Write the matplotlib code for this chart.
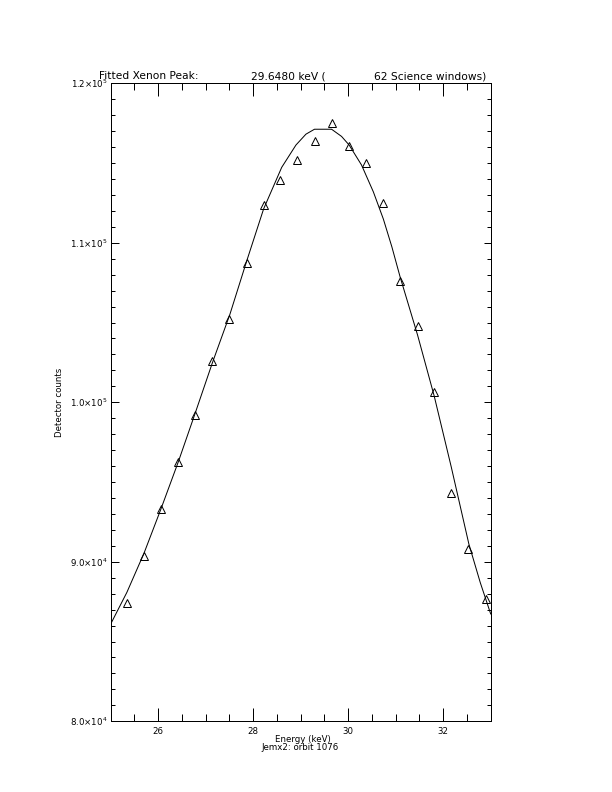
import matplotlib
matplotlib.use("Agg")
import matplotlib.pyplot as plt
from matplotlib.ticker import MultipleLocator, FixedLocator

# ---- data ----
energy_pts = [25.34, 25.71, 26.06, 26.42, 26.78, 27.14, 27.50, 27.86, 28.22, 28.57, 28.93,
              29.30, 29.65, 30.01, 30.38, 30.74, 31.09, 31.46, 31.81, 32.16, 32.53, 32.90]
counts_pts = [87400, 90360, 93310, 96280, 99200, 102590, 105220, 108720, 112370, 113940, 115190,
              116400, 117530, 116090, 115020, 112520, 107610, 104790, 100670, 94330, 90780, 87650]

energy_fit = [25.00, 25.34, 25.70, 26.05, 26.42, 26.78, 27.14, 27.51, 27.86, 28.22, 28.60, 28.90,
              29.11, 29.29, 29.65, 29.86, 30.02, 30.28, 30.53, 30.74, 30.92, 31.09, 31.46, 31.81,
              32.17, 32.54, 32.78, 33.00]
counts_fit = [86100, 88080, 90530, 93250, 96240, 99330, 102470, 105520, 108830, 112130, 114730, 116130,
              116810, 117120, 117120, 116670, 116130, 114880, 113190, 111490, 109740, 107890, 104220, 100400,
              95940, 91120, 88700, 86730]

x_major = [26, 28, 30, 32]
y_major = [80000, 90000, 100000, 110000, 120000]
y_labels = [r"8.0$\times$10$^4$", r"9.0$\times$10$^4$", r"1.0$\times$10$^5$",
            r"1.1$\times$10$^5$", r"1.2$\times$10$^5$"]

title_parts = ["Fitted Xenon Peak:", "29.6480 keV (", "62 Science windows)"]
x_title = "Energy (keV)"
sub_title = "Jemx2: orbit 1076"
y_title = "Detector counts"

# ---- figure ----
W, H = 612, 792
fig = plt.figure(figsize=(W / 100, H / 100), dpi=100)
fig.patch.set_facecolor("white")

L, R, T, B = 110.7, 490.7, 83.3, 721.3
ax = fig.add_axes([L / W, 1 - B / H, (R - L) / W, (B - T) / H])

lw = 0.72
ax.plot(energy_fit, counts_fit, color="black", lw=lw, zorder=2)
ax.plot(energy_pts, counts_pts, linestyle="none", marker="^", markersize=5.5,
        markerfacecolor="none", markeredgecolor="black", markeredgewidth=lw, zorder=3)

ax.set_xlim(25, 33)
ax.set_ylim(80000, 120000)

ax.xaxis.set_major_locator(FixedLocator(x_major))
ax.xaxis.set_minor_locator(MultipleLocator(0.5))
ax.yaxis.set_major_locator(FixedLocator(y_major))
ax.yaxis.set_minor_locator(MultipleLocator(1000))
ax.set_xticklabels([str(v) for v in x_major])
ax.set_yticklabels(y_labels)

for s in ax.spines.values():
    s.set_linewidth(lw)

fs = 6.2
ax.tick_params(axis="x", which="major", direction="in", length=9.4, width=lw,
               top=True, bottom=True, pad=3.9, labelsize=fs)
ax.tick_params(axis="x", which="minor", direction="in", length=4.7, width=lw,
               top=True, bottom=True)
ax.tick_params(axis="y", which="major", direction="in", length=5.4, width=lw,
               left=True, right=True, pad=2.4, labelsize=fs)
ax.tick_params(axis="y", which="minor", direction="in", length=2.9, width=lw,
               left=True, right=True)

# titles / labels
tfs = 7.7
fig.text(99.0 / W, 1 - 79.3 / H, title_parts[0], fontsize=tfs, ha="left", va="baseline")
fig.text(251.0 / W, 1 - 79.3 / H, title_parts[1], fontsize=tfs, ha="left", va="baseline")
fig.text(373.5 / W, 1 - 79.3 / H, title_parts[2], fontsize=tfs, ha="left", va="baseline")

fig.text(302.5 / W, 1 - 741.7 / H, x_title, fontsize=fs, ha="center", va="baseline")
fig.text(300.5 / W, 1 - 749.5 / H, sub_title, fontsize=fs, ha="center", va="baseline")
fig.text(59.0 / W, 1 - 402.0 / H, y_title, fontsize=fs, ha="center", va="center", rotation=90)

fig.savefig("out.png", dpi=100)
